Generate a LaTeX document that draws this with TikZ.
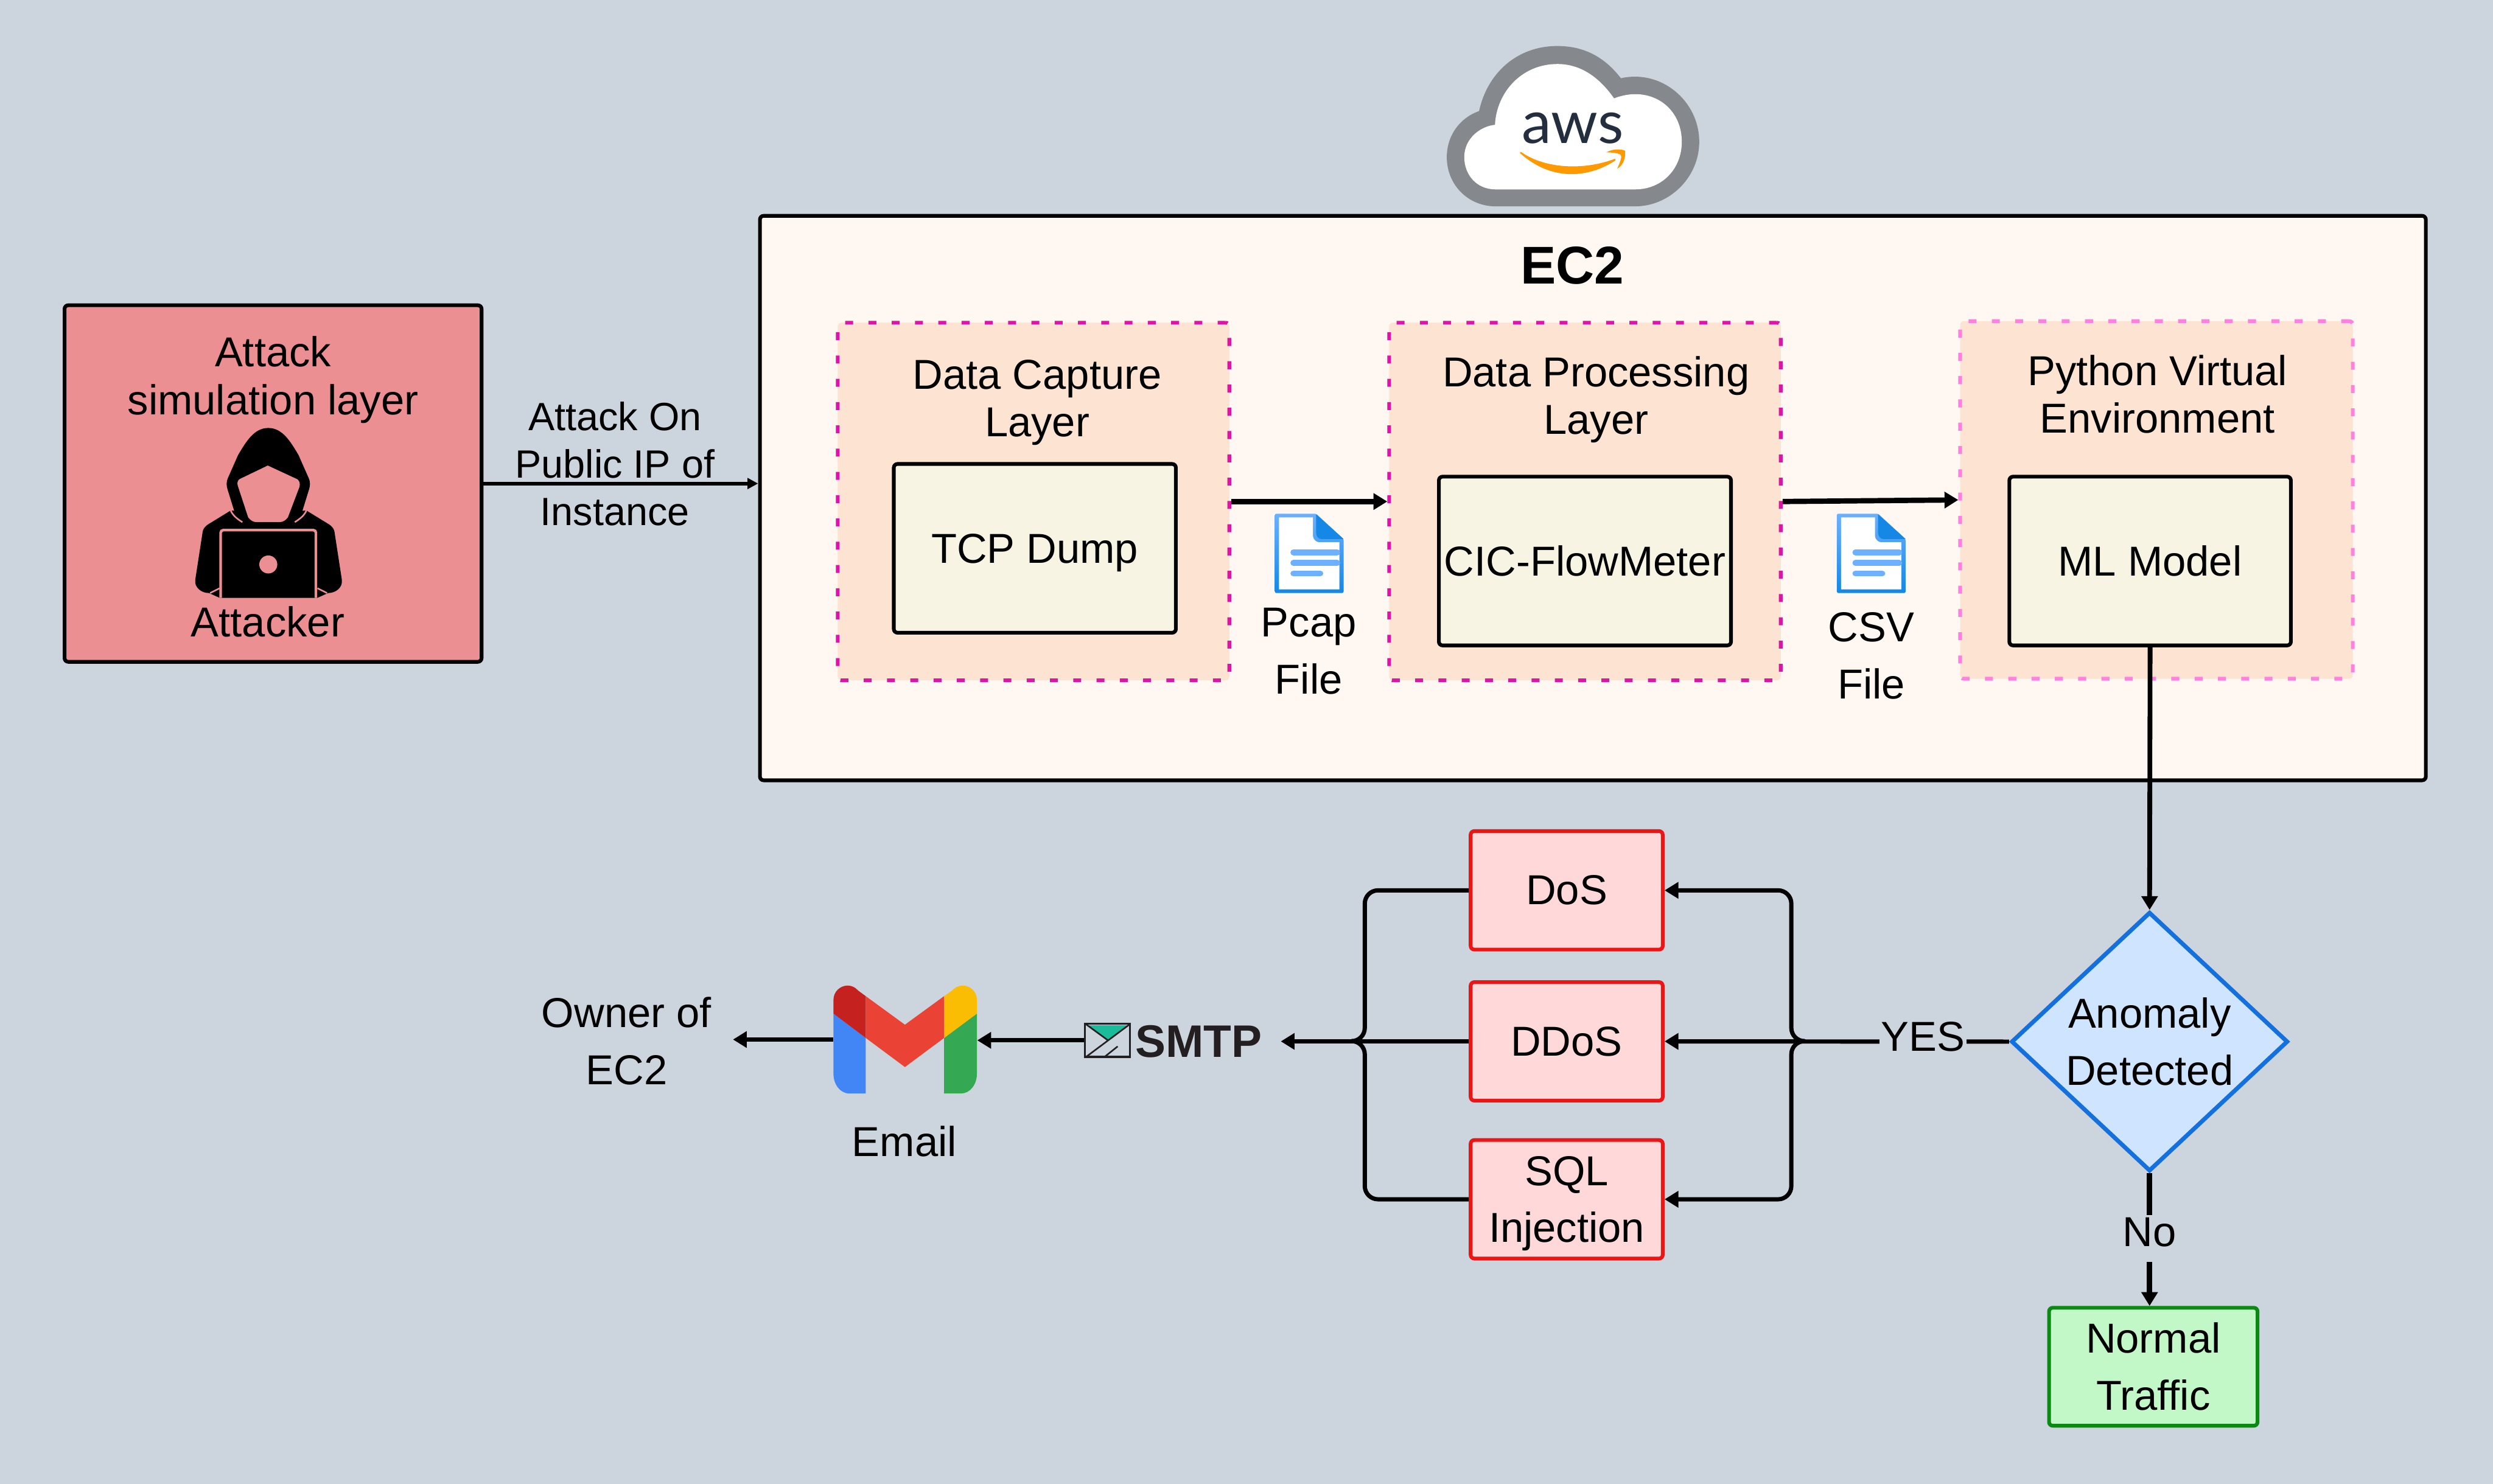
\documentclass[tikz,border=0pt]{standalone}
\usepackage{fontspec}
\setmainfont{Liberation Sans}
\newfontfamily\awsfont{Lato}
\usetikzlibrary{arrows.meta,shapes.geometric}

\definecolor{pagebg}{HTML}{CCD4DD}
\definecolor{cloudgrey}{HTML}{85888C}
\definecolor{awsink}{HTML}{232F3E}
\definecolor{awsorange}{HTML}{FF9900}
\definecolor{ecfill}{HTML}{FFF7F1}
\definecolor{layerfill}{HTML}{FDE3D1}
\definecolor{toolfill}{HTML}{F7F4E3}
\definecolor{attackfill}{HTML}{EC8F93}
\definecolor{typefill}{HTML}{FFD8D9}
\definecolor{typeline}{HTML}{EC1515}
\definecolor{dashpink}{HTML}{DD14A8}
\definecolor{dashlight}{HTML}{FF80E0}
\definecolor{decfill}{HTML}{CFE4FF}
\definecolor{decline}{HTML}{1470DC}
\definecolor{okfill}{HTML}{C2F7C7}
\definecolor{okline}{HTML}{0A8A12}
\definecolor{docblue}{HTML}{1488E4}
\definecolor{doclight}{HTML}{6CB0FF}
\definecolor{smtpink}{HTML}{231F20}
\definecolor{smtpteal}{HTML}{1ABC9C}
\definecolor{mailred}{HTML}{EA4335}
\definecolor{maildark}{HTML}{C5221F}
\definecolor{mailblue}{HTML}{4285F4}
\definecolor{mailgreen}{HTML}{34A853}
\definecolor{mailyellow}{HTML}{FBBC04}

\tikzset{
  txt/.style={font=\fontsize{22.5}{25.6}\selectfont, align=center, inner sep=0},
  wide/.style={font=\fontsize{22.5}{30.7}\selectfont, align=center, inner sep=0},
  box/.style={rectangle, rounded corners=0.07cm, line width=0.07cm, inner sep=0, font=\fontsize{22.5}{30.7}\selectfont, align=center},
  layerbox/.style={box, fill=layerfill, dash pattern=on 0.15cm off 0.29cm},
  toolbox/.style={box, draw=black, fill=toolfill, minimum width=5.33cm, minimum height=3.19cm},
  typebox/.style={box, draw=typeline, fill=typefill, minimum width=3.63cm, minimum height=2.24cm},
  flow/.style={line width=0.08cm, -{Triangle[length=0.26cm,width=0.3cm]}},
  plain/.style={line width=0.08cm, rounded corners=0.25cm},
  docicon/.pic={
    \shade[top color=doclight, bottom color=docblue, rounded corners=0.03cm]
      (-0.65,-0.75) -- (-0.65,0.75) -- (0.13,0.75) -- (0.65,0.27) -- (0.65,-0.75) -- cycle;
    \fill[white] (-0.57,-0.68) -- (-0.57,0.68) -- (0.07,0.68) -- (0.07,0.33)
      .. controls (0.07,0.27) and (0.13,0.21) .. (0.19,0.21) -- (0.57,0.21) -- (0.57,-0.68) -- cycle;
    \fill[docblue] (0.13,0.74) -- (0.65,0.27) -- (0.23,0.27)
      .. controls (0.17,0.27) and (0.13,0.33) .. (0.13,0.39) -- cycle;
    \draw[doclight, line width=0.11cm, line cap=round] (-0.30,0.02) -- (0.53,0.02);
    \draw[doclight, line width=0.11cm, line cap=round] (-0.30,-0.18) -- (0.53,-0.18);
    \draw[doclight, line width=0.11cm, line cap=round] (-0.30,-0.38) -- (0.21,-0.38);
  }
}

\begin{document}
\begin{tikzpicture}
    \useasboundingbox (0,0) rectangle (47.11,-28.05);
    \fill[pagebg] (0,0) rectangle (47.11,-28.05);

    % Cloud on top of the EC2 box.
    \fill[cloudgrey] (28.26,-3.90) -- (30.90,-3.90)
        .. controls (31.55,-3.90) and (32.11,-3.35) .. (32.11,-2.68)
        .. controls (32.11,-2.00) and (31.55,-1.45) .. (30.90,-1.45)
        .. controls (30.80,-1.45) and (30.70,-1.46) .. (30.63,-1.48)
        .. controls (30.30,-1.05) and (29.90,-0.87) .. (29.43,-0.87)
        .. controls (28.65,-0.87) and (28.10,-1.40) .. (27.95,-2.10)
        .. controls (27.60,-2.22) and (27.34,-2.55) .. (27.34,-2.97)
        .. controls (27.34,-3.50) and (27.75,-3.90) .. (28.26,-3.90) -- cycle;
    \fill[white] (28.26,-3.58) -- (30.90,-3.58)
        .. controls (31.40,-3.58) and (31.78,-3.20) .. (31.78,-2.68)
        .. controls (31.78,-2.15) and (31.40,-1.78) .. (30.90,-1.78)
        .. controls (30.75,-1.78) and (30.60,-1.82) .. (30.50,-1.86)
        .. controls (30.25,-1.50) and (29.90,-1.21) .. (29.43,-1.21)
        .. controls (28.75,-1.21) and (28.28,-1.75) .. (28.25,-2.36)
        .. controls (28.00,-2.38) and (27.67,-2.60) .. (27.67,-2.97)
        .. controls (27.67,-3.30) and (27.90,-3.58) .. (28.26,-3.58) -- cycle;
    \node[inner sep=0, text=awsink, font=\awsfont\fontsize{32}{32}\selectfont] (aws) at (29.72,-2.42) {aws};
    \fill[awsorange] (28.74,-2.87) .. controls (29.20,-3.20) and (29.95,-3.22) .. (30.52,-3.00)
        -- (30.53,-3.03) .. controls (30.00,-3.38) and (29.30,-3.42) .. (28.72,-2.89) -- cycle;
    \fill[awsorange] (30.35,-2.88) .. controls (30.50,-2.80) and (30.65,-2.82) .. (30.71,-2.85)
        .. controls (30.72,-2.98) and (30.68,-3.12) .. (30.56,-3.19)
        .. controls (30.62,-3.05) and (30.66,-2.95) .. (30.62,-2.92)
        .. controls (30.55,-2.89) and (30.45,-2.88) .. (30.35,-2.88) -- cycle;

    % Attacker box.
    \node[box, draw=black, fill=attackfill, minimum width=7.88cm, minimum height=6.74cm] (attack) at (5.16,-9.14) {};
    \node[txt] (attacktitle) at (5.16,-7.18) {Attack\\simulation layer};
    \node[txt] (attacker) at (5.06,-11.75) {Attacker};
    % This draws the hooded figure.
        \fill[black] (5.07,-8.09) .. controls (4.80,-8.09) and (4.65,-8.35) .. (4.50,-8.60)
            -- (4.31,-9.03) .. controls (4.27,-9.12) and (4.28,-9.18) .. (4.30,-9.25)
            -- (4.47,-9.80) -- (5.67,-9.80) -- (5.84,-9.25)
            .. controls (5.86,-9.18) and (5.87,-9.12) .. (5.83,-9.03)
            -- (5.64,-8.60) .. controls (5.49,-8.35) and (5.34,-8.09) .. (5.07,-8.09) -- cycle;
        \fill[black] (4.36,-9.65) -- (3.92,-9.92) .. controls (3.86,-9.97) and (3.84,-10.00) .. (3.83,-10.05)
            -- (3.69,-10.96) .. controls (3.67,-11.10) and (3.80,-11.21) .. (3.95,-11.21)
            -- (4.15,-11.30) -- (6.00,-11.30) -- (6.20,-11.21)
            .. controls (6.35,-11.21) and (6.48,-11.10) .. (6.46,-10.96)
            -- (6.32,-10.05) .. controls (6.31,-10.00) and (6.29,-9.97) .. (6.23,-9.92)
            -- (5.79,-9.65) -- (5.07,-9.70) -- cycle;
        \fill[attackfill] (5.06,-8.80) -- (5.62,-9.06) .. controls (5.67,-9.10) and (5.67,-9.15) .. (5.66,-9.20)
            -- (5.44,-9.78) .. controls (5.40,-9.83) and (5.35,-9.87) .. (5.28,-9.87)
            -- (4.85,-9.87) .. controls (4.78,-9.87) and (4.73,-9.83) .. (4.69,-9.78)
            -- (4.50,-9.20) .. controls (4.48,-9.15) and (4.48,-9.10) .. (4.52,-9.06) -- cycle;
        \draw[attackfill, line width=0.03cm] (4.36,-9.65) .. controls (4.40,-9.75) and (4.50,-9.82) .. (4.58,-9.87);
        \draw[attackfill, line width=0.03cm] (5.79,-9.65) .. controls (5.75,-9.75) and (5.65,-9.82) .. (5.57,-9.87);
        \draw[attackfill, line width=0.05cm, rounded corners=0.05cm] (4.17,-11.30) -- (4.17,-10.02) -- (5.97,-10.02) -- (5.97,-11.30);
        \draw[attackfill, line width=0.03cm] (3.97,-11.21) -- (4.15,-11.12);
        \draw[attackfill, line width=0.03cm] (6.18,-11.21) -- (6.00,-11.12);
        \fill[attackfill] (5.07,-10.67) circle (0.17);

    % EC2 box and its layers.
    \node[box, draw=black, fill=ecfill, minimum width=31.48cm, minimum height=10.67cm] (ec2) at (30.10,-9.415) {};
    \node[inner sep=0, font=\fontsize{28.6}{28.6}\selectfont\bfseries] (ec2title) at (29.71,-5.02) {EC2};

    \node[layerbox, draw=dashpink, minimum width=7.40cm, minimum height=6.76cm] (capture) at (19.53,-9.48) {};
    \node[txt] (capturetitle) at (19.60,-7.61) {Data Capture\\Layer};
    \node[toolbox, text depth=0pt] (tcp) at (19.555,-10.365) {TCP Dump};

    \node[layerbox, draw=dashpink, minimum width=7.40cm, minimum height=6.76cm] (process) at (29.95,-9.48) {};
    \node[txt] (processtitle) at (30.16,-7.55) {Data Processing\\Layer};
    \node[toolbox, minimum width=5.52cm] (cic) at (29.95,-10.605) {CIC-FlowMeter};

    \node[layerbox, draw=dashlight, minimum width=7.42cm, minimum height=6.76cm] (python) at (40.75,-9.45) {};
    \node[txt] (pythontitle) at (40.77,-7.45) {Python Virtual\\Environment};
    \node[toolbox, minimum width=5.32cm] (model) at (40.63,-10.605) {ML Model};

    \pic at (24.74,-10.46) {docicon};
    \node[wide] (pcap) at (24.73,-12.31) {Pcap\\File};
    \pic at (35.36,-10.46) {docicon};
    \node[wide] (csv) at (35.36,-12.40) {CSV\\File};

    % Attack type boxes.
    \node[typebox] (dos) at (29.605,-16.83) {DoS};
    \node[typebox] (ddos) at (29.605,-19.685) {DDoS};
    \node[typebox, text depth=0pt] (sql) at (29.605,-22.67) {SQL\\Injection};

    \node[diamond, aspect=1.07, draw=decline, fill=decfill, line width=0.08cm, minimum width=5.23cm, minimum height=4.90cm, inner sep=0, font=\fontsize{22.5}{30.7}\selectfont, align=center] (decision) at (40.62,-19.69) {Anomaly\\Detected};
    \node[box, draw=okline, fill=okfill, minimum width=3.94cm, minimum height=2.23cm] (normal) at (40.69,-25.835) {Normal\\Traffic};

    % SMTP mark and text.
    \node[draw=smtpink, line width=0.04cm, inner sep=0, minimum width=0.85cm, minimum height=0.63cm] (mailbox) at (20.925,-19.665) {};
    \fill[smtpteal] (20.55,-19.38) -- (21.30,-19.38) -- (20.93,-19.66) -- cycle;
    \draw[smtpink, line width=0.03cm] (20.52,-19.36) -- (20.93,-19.66);
    \draw[smtpink, line width=0.03cm] (21.35,-19.36) -- (20.52,-19.98);
    \draw[smtpink, line width=0.03cm] (21.12,-19.78) -- (20.87,-19.98);
    \node[inner sep=0.35cm, text=smtpink, font=\fontsize{24.5}{24.5}\selectfont\bfseries] (smtp) at (22.65,-19.685) {SMTP};

    % Mail mark.
    \node[inner sep=0, minimum width=2.71cm, minimum height=2.04cm] (gmail) at (17.105,-19.65) {};
    \fill[mailblue] (15.75,-19.16) -- (16.36,-19.62) -- (16.36,-20.67) -- (16.05,-20.67)
        .. controls (15.88,-20.67) and (15.75,-20.50) .. (15.75,-20.30) -- cycle;
    \fill[mailgreen] (18.46,-19.16) -- (17.84,-19.62) -- (17.84,-20.67) -- (18.16,-20.67)
        .. controls (18.33,-20.67) and (18.46,-20.50) .. (18.46,-20.30) -- cycle;
    \fill[mailred] (16.36,-18.83) -- (17.10,-19.37) -- (17.84,-18.83) -- (17.84,-19.62)
        -- (17.10,-20.17) -- (16.36,-19.62) -- cycle;
    \fill[maildark] (15.75,-19.16) -- (15.75,-18.90) .. controls (15.75,-18.75) and (15.87,-18.63) .. (16.02,-18.63)
        .. controls (16.10,-18.63) and (16.17,-18.67) .. (16.21,-18.72) -- (16.36,-18.83) -- (16.36,-19.62) -- cycle;
    \fill[mailyellow] (18.46,-19.16) -- (18.46,-18.90) .. controls (18.46,-18.75) and (18.34,-18.63) .. (18.19,-18.63)
        .. controls (18.11,-18.63) and (18.04,-18.67) .. (18.00,-18.72) -- (17.84,-18.83) -- (17.84,-19.62) -- cycle;
    \node[txt] (email) at (17.09,-21.57) {Email};
    \node[wide, inner sep=0.40cm] (owner) at (11.84,-19.68) {Owner of\\EC2};

    % Below lines are the connectors.
        \draw[line width=0.07cm, -{Triangle[length=0.2cm,width=0.2cm]}] (attack.east) -- (attack.east -| ec2.west);
        \node[txt, font=\fontsize{21.2}{25.6}\selectfont] (attackon) at (11.62,-8.77) {Attack On\\Public IP of\\Instance};
        \draw[flow, line width=0.1cm] (capture.east) -- (process.west);
        \draw[flow, line width=0.1cm] (process.east) -- (python.west);
        \draw[flow, line width=0.09cm] (model.south) -- (decision.north);
        \draw[flow, line width=0.1cm] (decision.south) -- node[fill=pagebg, inner sep=0, inner xsep=0.1cm, text height=0.6cm, text depth=0.29cm, pos=0.49, font=\fontsize{22.5}{22.5}\selectfont] (nolabel) {No} (decision.south |- normal.north);
        \draw[flow] (decision.west) -- node[fill=pagebg, inner sep=0.03cm, pos=0.25, yshift=0.09cm, font=\fontsize{22.5}{22.5}\selectfont] (yeslabel) {YES} (ddos.east);
        \coordinate (rightjoin) at (34.10,-19.68);
        \coordinate (rightbar) at (33.85,-19.68);
        \draw[flow, rounded corners=0.25cm] (rightjoin) -- (rightbar) |- (dos.east);
        \draw[flow, rounded corners=0.25cm] (rightjoin) -- (rightbar) |- (sql.east);
        \coordinate (leftjoin) at (25.55,-19.68);
        \coordinate (leftbar) at (25.79,-19.68);
        \draw[plain] (dos.west) -| (leftbar) -- (leftjoin);
        \draw[plain] (sql.west) -| (leftbar) -- (leftjoin);
        \draw[flow] (ddos.west) -- (smtp.east);
        \draw[flow] (mailbox.west) -- (mailbox.west -| gmail.east);
        \draw[flow] (gmail.west) -- (gmail.west -| owner.east);
\end{tikzpicture}
\end{document}
